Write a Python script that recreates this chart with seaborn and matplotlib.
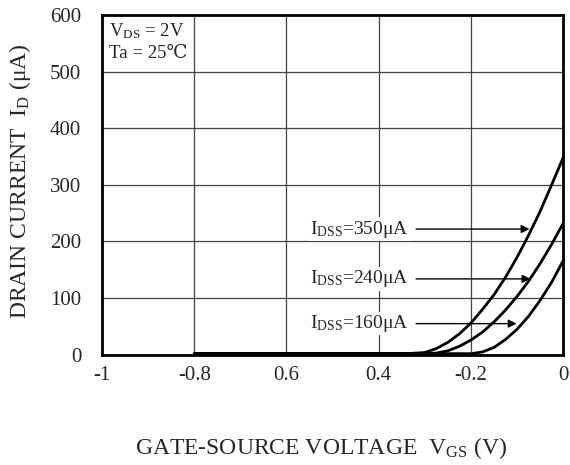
import numpy as np
import pandas as pd
import seaborn as sns
from matplotlib import pyplot as plt

# gate-source voltage (V) and drain current (uA)
v_350 = [-0.8, -0.34, -0.30, -0.275, -0.25, -0.225, -0.2, -0.175, -0.15, -0.125, -0.1, -0.075, -0.05, -0.025, 0.0]
i_350 = [2, 2, 4, 11, 22, 37, 56, 80, 106, 137, 172, 211, 253, 300, 348]
v_240 = [-0.8, -0.30, -0.275, -0.25, -0.225, -0.2, -0.175, -0.15, -0.125, -0.1, -0.075, -0.05, -0.025, 0.0]
i_240 = [2, 2, 3, 7, 15, 26, 40, 58, 79, 103, 130, 161, 195, 232]
v_160 = [-0.8, -0.215, -0.2, -0.175, -0.15, -0.125, -0.1, -0.075, -0.05, -0.025, 0.0]
i_160 = [2, 2, 2, 5, 13, 27, 45, 68, 96, 128, 166]

labels = ['350', '240', '160']
label_y = [222, 134, 55]
arrow_x = [-0.067, -0.065, -0.095]

xticks = [-1, -0.8, -0.6, -0.4, -0.2, 0]
xtick_labels = ['-1', '-0.8', '0.6', '0.4', '-0.2', '0']
yticks = [0, 100, 200, 300, 400, 500, 600]

sns.set_style('white')
plt.rcParams['font.family'] = ['Liberation Serif', 'DejaVu Serif']
plt.rcParams['mathtext.fontset'] = 'custom'
plt.rcParams['mathtext.rm'] = 'Liberation Serif'
plt.rcParams['mathtext.it'] = 'Liberation Serif'

fig = plt.figure(figsize=[5.7, 4.65], dpi=100)
ax = fig.add_axes([0.179, 0.237, 0.809, 0.731])

for v, i in [(v_350, i_350), (v_240, i_240), (v_160, i_160)]:
    df = pd.DataFrame({'v': v, 'i': i})
    sns.lineplot(x='v', y='i', data=df, ax=ax, color='black', linewidth=2, zorder=3)

for lab, y, xe in zip(labels, label_y, arrow_x):
    ax.annotate('', xy=(xe, y), xytext=(-0.325, y),
                arrowprops=dict(arrowstyle='-|>', color='black', lw=1, mutation_scale=12), zorder=4)
    ax.text(-0.335, y, r'I$_{\mathrm{DSS}}$=' + lab + 'μA', ha='right', va='center', fontsize=14,
            bbox=dict(facecolor='white', edgecolor='none', pad=1), zorder=2)

ax.text(-0.985, 572, r'V$_{\mathrm{DS}}$ = 2V', fontsize=13.5, va='center')
ax.text(-0.985, 532, 'Ta = 25℃', fontsize=13.5, va='center')

ax.set_xlim(-1, 0)
ax.set_ylim(0, 600)
ax.set_xticks(xticks)
ax.set_xticklabels(xtick_labels)
ax.set_yticks(yticks)
ax.tick_params(labelsize=15, length=0)
ax.tick_params(axis='x', pad=8)
ax.tick_params(axis='y', pad=15)
ax.grid(True, color='#444444', linewidth=0.9)
ax.set_axisbelow(True)
for s in ax.spines.values():
    s.set_linewidth(2)
    s.set_color('black')

ax.set_xlabel(r'GATE-SOURCE VOLTAGE  V$_{\mathrm{GS}}$ (V)', fontsize=17)
ax.set_ylabel(r'DRAIN CURRENT  I$_{\mathrm{D}}$ (μA)', fontsize=17)
ax.xaxis.set_label_coords(0.475, -0.235)
ax.yaxis.set_label_coords(-0.15, 0.51)

fig.savefig('out.png', dpi=100)
